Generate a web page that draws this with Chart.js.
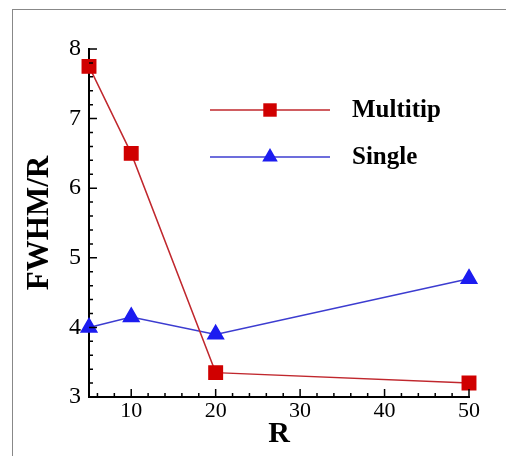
<!DOCTYPE html>
<html>
<head>
<meta charset="utf-8">
<script src="https://cdn.jsdelivr.net/npm/chart.js@4/dist/chart.umd.min.js"></script>
<style>
  html, body { margin: 0; padding: 0; background: #fff; }
  #wrap { position: relative; width: 506px; height: 456px; }
  #frame { position: absolute; left: 12px; top: 9px; width: 494px; height: 447px; border-left: 1px solid #888; border-top: 1px solid #888; box-sizing: border-box; }
  canvas { position: absolute; left: 0; top: 0; }
</style>
</head>
<body>
<div id="wrap">
  <div id="frame"></div>
  <canvas id="myChart" width="506" height="456"></canvas>
</div>
<script>
// values
let rValues = [5, 10, 20, 50]
let multitip = [7.75, 6.5, 3.35, 3.2]
let single = [4.0, 4.15, 3.9, 4.7]
let xTicks = [10, 20, 30, 40, 50]
let seriesNames = ["Multitip", "Single"]

let serif = "'Liberation Serif', 'Times New Roman', serif"

function toPoints(ys) {
  return rValues.map((x, i) => ({x: x, y: ys[i]}))
}

// inward ticks (major + minor) and the R tick labels, placed by the scales
let tickMarks = {
  id: "tickMarks",
  afterDatasetsDraw(chart) {
    let ctx = chart.ctx
    let xs = chart.scales.x, ys = chart.scales.y
    let x0 = xs.left, y0 = ys.bottom
    ctx.save()
    ctx.strokeStyle = "#000"
    ctx.lineWidth = 1.5
    ctx.beginPath()
    for (let v = 30; v <= 80; v += 2) {
      let py = ys.getPixelForValue(v / 10)
      let len = v % 10 == 0 ? 8 : 4
      ctx.moveTo(x0, py)
      ctx.lineTo(x0 + len, py)
    }
    for (let v = 6; v <= 50; v += 2) {
      let px = xs.getPixelForValue(v)
      let len = v % 10 == 0 ? 8 : 4
      ctx.moveTo(px, y0)
      ctx.lineTo(px, y0 - len)
    }
    ctx.stroke()
    ctx.fillStyle = "#000"
    ctx.font = "22px " + serif
    ctx.textAlign = "center"
    ctx.textBaseline = "top"
    xTicks.forEach(v => {
      ctx.fillText(String(v), xs.getPixelForValue(v), y0 + 3)
    })
    ctx.restore()
  }
}

// legend inside the plot: line with the marker in the middle
let innerLegend = {
  id: "innerLegend",
  afterDatasetsDraw(chart) {
    let ctx = chart.ctx
    let a = chart.chartArea
    let lx1 = a.left + 121, lx2 = a.left + 241, tx = a.left + 263
    let rows = [a.top + 61, a.top + 108]
    chart.data.datasets.forEach((ds, i) => {
      let y = rows[i]
      let mx = (lx1 + lx2) / 2
      let r = ds.pointRadius
      ctx.save()
      ctx.strokeStyle = ds.borderColor
      ctx.lineWidth = 1.5
      ctx.beginPath()
      ctx.moveTo(lx1, y)
      ctx.lineTo(lx2, y)
      ctx.stroke()
      ctx.fillStyle = ds.pointBackgroundColor
      ctx.beginPath()
      if (ds.pointStyle == "rect") {
        let h = r * Math.SQRT1_2
        ctx.rect(mx - h, y - h, 2 * h, 2 * h)
      } else {
        ctx.moveTo(mx, y - r)
        ctx.lineTo(mx + r * 0.866, y + r / 2)
        ctx.lineTo(mx - r * 0.866, y + r / 2)
        ctx.closePath()
      }
      ctx.fill()
      ctx.fillStyle = "#000"
      ctx.font = "bold 25px " + serif
      ctx.textBaseline = "middle"
      ctx.textAlign = "left"
      ctx.fillText(ds.label, tx, y + 1)
      ctx.restore()
    })
  }
}

new Chart("myChart", {
  type: "line",
  data: {
    datasets: [{
      label: seriesNames[0],
      data: toPoints(multitip),
      borderColor: "#c0272d",
      borderWidth: 1.5,
      pointStyle: "rect",
      pointRadius: 9.5,
      pointBackgroundColor: "#d00000",
      pointBorderColor: "#d00000",
      clip: false
    }, {
      label: seriesNames[1],
      data: toPoints(single),
      borderColor: "#3c3cd0",
      borderWidth: 1.5,
      pointStyle: "triangle",
      pointRadius: 9,
      pointBackgroundColor: "#1c1cf0",
      pointBorderColor: "#1c1cf0",
      clip: false
    }]
  },
  options: {
    responsive: false,
    animation: false,
    events: [],
    layout: { padding: { top: 49, right: 37, left: 0, bottom: 0 } },
    plugins: {
      legend: { display: false },
      tooltip: { enabled: false }
    },
    scales: {
      x: {
        type: "linear",
        min: 5,
        max: 50,
        afterFit(scale) { scale.height = 59 },
        grid: { display: true, drawOnChartArea: false, drawTicks: false },
        border: { display: true, color: "#000", width: 2 },
        ticks: { display: false, stepSize: 10 },
        title: { display: true, text: "R", color: "#000", font: { family: serif, size: 30, weight: "bold" }, padding: { top: 0, bottom: 4 } }
      },
      y: {
        min: 3,
        max: 8,
        ticks: { stepSize: 1, color: "#000", font: { family: serif, size: 24 }, padding: 8 },
        afterFit(scale) { scale.width = 89 },
        grid: { display: true, drawOnChartArea: false, drawTicks: false },
        border: { display: true, color: "#000", width: 2 },
        title: { display: true, text: "FWHM/R", color: "#000", font: { family: serif, size: 31, weight: "bold" }, padding: { top: 21, bottom: 0 } }
      }
    }
  },
  plugins: [tickMarks, innerLegend]
});
</script>
</body>
</html>
